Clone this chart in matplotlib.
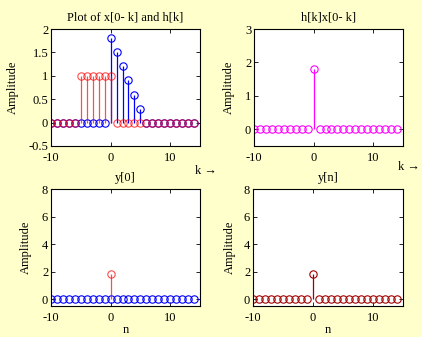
import numpy as np
import matplotlib
matplotlib.use("Agg")
import matplotlib.pyplot as plt

plt.rcParams['font.family'] = ['Liberation Serif', 'DejaVu Serif']
plt.rcParams['font.size'] = 9
plt.rcParams['axes.unicode_minus'] = False

k = list(range(-10, 15))
x_rev = [0, 0, 0, 0, 0, 1, 1, 1, 1, 1, 1, 0, 0, 0, 0, 0, 0, 0, 0, 0, 0, 0, 0, 0, 0]
h = [0, 0, 0, 0, 0, 0, 0, 0, 0, 0, 1.8, 1.5, 1.2, 0.9, 0.6, 0.3, 0, 0, 0, 0, 0, 0, 0, 0, 0]
prod = [a * b for a, b in zip(x_rev, h)]
y0_n = [0]
y0_val = [1.8]
yn = [0, 0, 0, 0, 0, 0, 0, 0, 0, 0, 1.8, 0, 0, 0, 0, 0, 0, 0, 0, 0, 0, 0, 0, 0, 0]
zeros = [0] * len(k)

bg = '#FFFFCC'
fig = plt.figure(figsize=(4.22, 3.37), dpi=100, facecolor=bg)

W, H = 422, 337
def axes_px(l, t, r, b):
    return fig.add_axes([l / W, (H - b) / H, (r - l) / W, (b - t) / H])

ax1 = axes_px(51, 29, 200, 146)
ax2 = axes_px(254, 29, 403, 146)
ax3 = axes_px(51, 189, 200, 306)
ax4 = axes_px(253, 189, 403, 306)

def stem(ax, xs, ys, color, alpha=1.0, lw=0.9):
    ml, sl, bl = ax.stem(xs, ys, basefmt=' ')
    ml.set_markerfacecolor('none')
    ml.set_markeredgecolor(color)
    ml.set_markersize(5.3)
    ml.set_markeredgewidth(0.8)
    ml.set_alpha(alpha)
    sl.set_color(color)
    sl.set_linewidth(lw)
    sl.set_alpha(alpha)

def style(ax):
    ax.set_xlim(-10, 15)
    ax.set_xticks([-10, 0, 10])
    ax.tick_params(direction='in', top=True, right=True, length=3, width=0.6,
                   labelsize=9, pad=2)
    ax.tick_params(axis='x', pad=4)
    for s in ax.spines.values():
        s.set_linewidth(0.8)
    ax.set_facecolor('white')

# Top-left
stem(ax1, k, h, 'blue')
stem(ax1, k, x_rev, 'red', alpha=0.7)
style(ax1)
ax1.set_ylim(-0.5, 2)
ax1.set_yticks([-0.5, 0, 0.5, 1, 1.5, 2])
ax1.set_yticklabels(['-0.5', '0', '0.5', '1', '1.5', '2'])
ax1.set_title('Plot of x[0- k] and h[k]', fontsize=9)
ax1.set_ylabel('Amplitude')
ax1.yaxis.set_label_coords(-0.215, 0.5)
ax1.text(0.966, -0.215, 'k \u2192', transform=ax1.transAxes, ha='left', va='center', fontsize=9)

# Top-right
stem(ax2, k, prod, 'magenta')
style(ax2)
ax2.set_ylim(-0.5, 3)
ax2.set_yticks([0, 1, 2, 3])
ax2.set_title('h[k]x[0- k]', fontsize=9)
ax2.set_ylabel('Amplitude')
ax2.yaxis.set_label_coords(-0.128, 0.5)
ax2.text(0.966, -0.18, 'k \u2192', transform=ax2.transAxes, ha='left', va='center', fontsize=9)

# Bottom-left
stem(ax3, k, zeros, 'blue')
stem(ax3, y0_n, y0_val, 'red', alpha=0.7)
style(ax3)
ax3.set_ylim(-0.5, 8)
ax3.set_yticks([0, 2, 4, 6, 8])
ax3.set_title('y[0]', fontsize=9)
ax3.set_ylabel('Amplitude')
ax3.yaxis.set_label_coords(-0.128, 0.5)
ax3.set_xlabel('n', labelpad=0)

# Bottom-right
stem(ax4, k, yn, '#A00000')
style(ax4)
ax4.set_ylim(-0.5, 8)
ax4.set_yticks([0, 2, 4, 6, 8])
ax4.set_title('y[n]', fontsize=9)
ax4.set_ylabel('Amplitude')
ax4.yaxis.set_label_coords(-0.114, 0.5)
ax4.set_xlabel('n', labelpad=0)

fig.savefig('out.png', dpi=100, facecolor=bg)
